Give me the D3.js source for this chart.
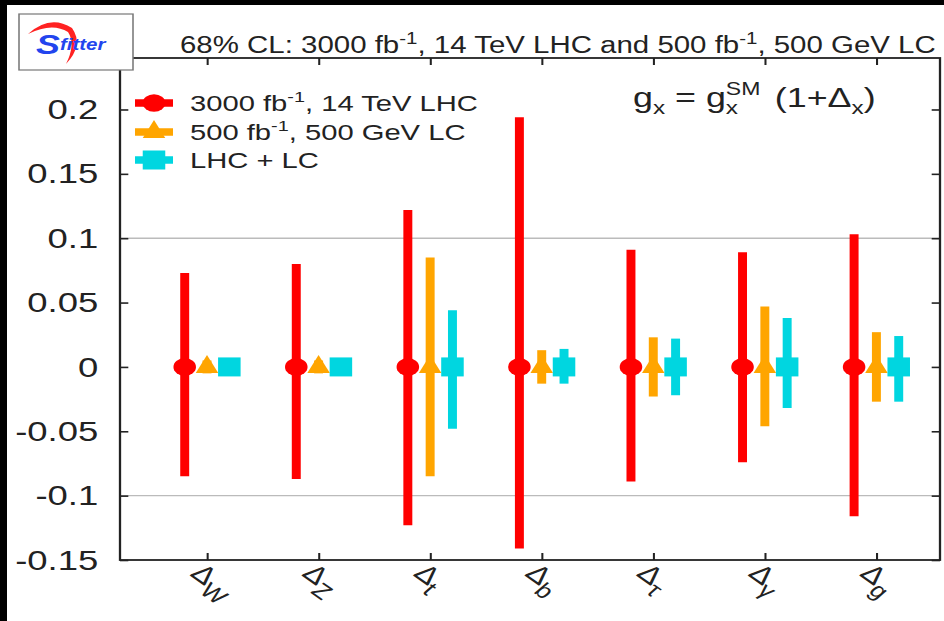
<!DOCTYPE html>
<html>
<head>
<meta charset="utf-8">
<script src="https://cdn.jsdelivr.net/npm/d3@7"></script>
<style>
body{margin:0;background:#000}
svg{display:block}
text{font-family:"Liberation Sans",Arial,Helvetica,sans-serif;fill:#222}
</style>
</head>
<body>
<script>
// couplings, in plotting order
const categories = ['W','Z','t','b','τ','γ','g']

// 68% CL bands (upper / lower) per coupling
const lhcUp   = [0.073, 0.080, 0.122, 0.194, 0.091, 0.089, 0.103]
const lhcDown = [-0.085, -0.087, -0.123, -0.141, -0.089, -0.074, -0.116]
const lcUp    = [0.005, 0.005, 0.085, 0.013, 0.023, 0.047, 0.027]
const lcDown  = [-0.005, -0.005, -0.085, -0.013, -0.023, -0.046, -0.027]
const combUp   = [0.005, 0.005, 0.044, 0.014, 0.022, 0.038, 0.024]
const combDown = [-0.005, -0.005, -0.048, -0.013, -0.022, -0.032, -0.027]

const yTicks = [-0.15, -0.1, -0.05, 0, 0.05, 0.1, 0.15, 0.2]
const yTickLabels = ['-0.15','-0.1','-0.05','0','0.05','0.1','0.15','0.2']
const gridVals = [-0.1, 0.1]

// the original picture is stretched sideways, so draw in a narrower box and stretch it
const S = 1.28
const W = 944 / S, H = 621
const margin = {top: 58, right: W - 940 / S, bottom: 61, left: 120 / S}

const svg = d3.select('body').append('svg')
    .attr('width', 944).attr('height', H)
    .attr('viewBox', `0 0 ${W} ${H}`)
    .attr('preserveAspectRatio', 'none')

svg.append('rect').attr('width', W).attr('height', H).attr('fill', '#000')
svg.append('rect').attr('x', 7 / S).attr('y', 5).attr('width', W).attr('height', H).attr('fill', '#fff')

const xPos = categories.map((c, i) => i + 1)
const x = d3.scaleLinear().domain([0.22, 7.57]).range([margin.left, W - margin.right])
const y = d3.scaleLinear().domain([-0.15, 0.24]).range([H - margin.bottom, margin.top])

// grid lines at +-0.1 only
svg.selectAll('.grid')
    .data(gridVals)
    .join('line')
    .attr('x1', x.range()[0]).attr('x2', x.range()[1])
    .attr('y1', d => y(d)).attr('y2', d => y(d))
    .attr('stroke', '#bbb').attr('stroke-width', 1.4)

//axes, ticks pointing inward
const styleAxis = g => {
    g.select('.domain').remove()
    g.selectAll('.tick line').attr('stroke', '#222').attr('stroke-width', 1.6)
}
svg.append('g')
    .attr('transform', `translate(${margin.left},0)`)
    .call(d3.axisLeft(y).tickValues(yTicks).tickSize(-6.5).tickPadding(17).tickFormat((d, i) => yTickLabels[i]))
    .call(styleAxis)
    .call(g => g.selectAll('text').attr('font-size', 28.5).attr('fill', '#222')
        .style('font-family', '"Liberation Sans",Arial,sans-serif'))
svg.append('g')
    .attr('transform', `translate(${W - margin.right},0)`)
    .call(d3.axisRight(y).tickValues(yTicks).tickSize(-6.5).tickFormat(''))
    .call(styleAxis)
svg.append('g')
    .attr('transform', `translate(0,${margin.top})`)
    .call(d3.axisTop(x).tickValues(xPos).tickSize(-7).tickFormat(''))
    .call(styleAxis)
svg.append('g')
    .attr('transform', `translate(0,${H - margin.bottom})`)
    .call(d3.axisBottom(x).tickValues(xPos).tickSize(-7).tickFormat(''))
    .call(styleAxis)

// series
const offsets = [-0.2, 0, 0.2]
const colors = ['#ff0000', '#ffa500', '#00d6e0']
const ups = [lhcUp, lcUp, combUp]
const downs = [lhcDown, lcDown, combDown]

function marker(g, k) {
    if (k === 0) g.append('circle').attr('r', 8.8)
    else if (k === 1) g.append('path').attr('d', 'M0,-12L8.8,6L-8.8,6Z')
    else g.append('rect').attr('x', -8.8).attr('y', -9.5).attr('width', 17.6).attr('height', 19)
    g.attr('fill', colors[k])
}

categories.forEach((c, i) => {
    ups.forEach((up, k) => {
        const cx = x(xPos[i] + offsets[k])
        svg.append('line')
            .attr('x1', cx).attr('x2', cx)
            .attr('y1', y(up[i])).attr('y2', y(downs[k][i]))
            .attr('stroke', colors[k]).attr('stroke-width', 7)
        marker(svg.append('g').attr('transform', `translate(${cx},${y(0)})`), k)
    })
})

// frame
svg.append('rect')
    .attr('x', margin.left).attr('y', margin.top)
    .attr('width', x.range()[1] - x.range()[0])
    .attr('height', y.range()[0] - y.range()[1])
    .attr('fill', 'none').attr('stroke', '#222').attr('stroke-width', 1.8)

// x labels, rotated delta with subscript
categories.forEach((c, i) => {
    const t = svg.append('text')
        .attr('transform', `translate(${x(xPos[i]) - 14},${575}) rotate(42)`)
        .attr('font-size', 25)
    t.append('tspan').text('Δ')
    t.append('tspan').attr('dy', 8).attr('font-size', 21).text(c)
})

// legend
const legY = [103, 132, 160]
const legendText = [
    ['3000 fb', '-1', ', 14 TeV LHC'],
    ['500 fb', '-1', ', 500 GeV LC'],
    ['LHC + LC', '', '']
]
legendText.forEach((parts, k) => {
    svg.append('line')
        .attr('x1', 135 / S).attr('x2', 173 / S)
        .attr('y1', legY[k]).attr('y2', legY[k])
        .attr('stroke', colors[k]).attr('stroke-width', 7.5)
    marker(svg.append('g').attr('transform', `translate(${154 / S},${legY[k]})`), k)
    const t = svg.append('text').attr('x', 190 / S).attr('y', legY[k] + 8.5).attr('font-size', 22.8)
    t.append('tspan').text(parts[0])
    if (parts[1]) {
        t.append('tspan').attr('dy', -9).attr('font-size', 15.5).text(parts[1])
        t.append('tspan').attr('dy', 9).text(parts[2])
    }
})

// title
const title = svg.append('text').attr('x', 180 / S).attr('y', 53).attr('font-size', 23)
title.append('tspan').text('68% CL: 3000 fb')
title.append('tspan').attr('dy', -9).attr('font-size', 16).text('-1')
title.append('tspan').attr('dy', 9).text(', 14 TeV LHC and 500 fb')
title.append('tspan').attr('dy', -9).attr('font-size', 16).text('-1')
title.append('tspan').attr('dy', 9).text(', 500 GeV LC')

// formula: g_x = g_x^SM (1+Δ_x)
const fx = 633 / S, fy = 107
const f1 = svg.append('text').attr('x', fx).attr('y', fy).attr('font-size', 28)
f1.append('tspan').text('g')
f1.append('tspan').attr('dy', 7).attr('font-size', 19).text('x')
f1.append('tspan').attr('dy', -7).text(' = g')
const subX = f1.append('tspan').attr('dy', 7).attr('font-size', 19).text('x')
f1.append('tspan').attr('dx', 21).attr('dy', -7).text(' (1+Δ')
f1.append('tspan').attr('dy', 7).attr('font-size', 19).text('x')
f1.append('tspan').attr('dy', -7).text(')')
const subBox = subX.node().getExtentOfChar(0)
svg.append('text').attr('x', subBox.x).attr('y', fy - 12).attr('font-size', 18).text('SM')

// logo box
const logo = svg.append('g')
logo.append('rect')
    .attr('x', 19 / S).attr('y', 14).attr('width', 114 / S).attr('height', 56)
    .attr('fill', '#fff').attr('stroke', '#777').attr('stroke-width', 1.2)
logo.append('path')
    .attr('d', `M${28 / S},34 Q${50 / S},14 ${72 / S},28 Q${84 / S},45 ${66 / S},64 Q${76 / S},44 ${68 / S},32 Q${52 / S},22 ${28 / S},34Z`)
    .attr('fill', '#f22')
logo.append('text').attr('x', 36 / S).attr('y', 54).attr('font-size', 28)
    .attr('font-weight', 'bold').attr('font-style', 'italic')
    .style('fill', '#2244ee').text('S')
logo.append('text').attr('x', 60 / S).attr('y', 50).attr('font-size', 16)
    .attr('font-weight', 'bold').attr('font-style', 'italic')
    .style('fill', '#2244ee').text('fitter')
</script>
</body>
</html>
